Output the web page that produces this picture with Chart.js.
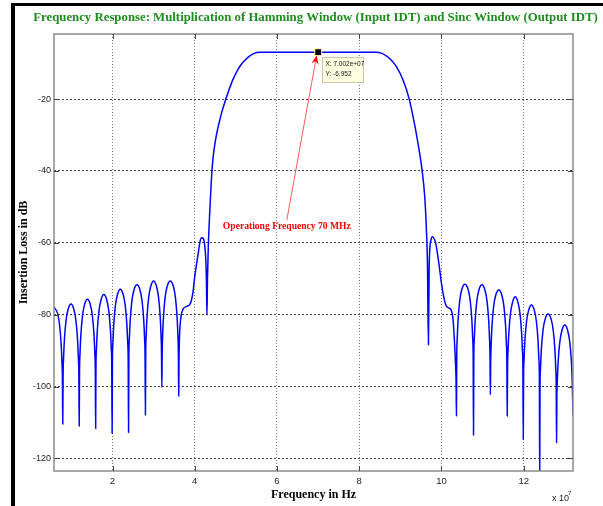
<!DOCTYPE html>
<html><head><meta charset="utf-8">
<script src="https://cdn.jsdelivr.net/npm/chart.js@4.4.0/dist/chart.umd.min.js"></script>
<style>
html,body{margin:0;padding:0;background:#fff;}
#wrap{position:relative;width:603px;height:506px;overflow:hidden;background:#fff;}
#frame{position:absolute;left:11px;top:3px;width:620px;height:520px;border-left:4px solid #000;border-top:3px solid #000;}
canvas{position:absolute;left:0;top:0;}
</style></head><body>
<div id="wrap"><div id="frame"></div><canvas id="c" width="603" height="506"></canvas></div>
<script>
const chartTitle = "Frequency Response: Multiplication of Hamming Window (Input IDT) and Sinc Window (Output IDT)";
const xAxisTitle = "Frequency in Hz";
const yAxisTitle = "Insertion Loss in dB";
const annotationText = "Operationg Frequency 70 MHz";
const xTicks = [2, 4, 6, 8, 10, 12];
const yTicks = [-20, -40, -60, -80, -100, -120];

// frequency in units of 1e7 Hz, loss in dB
const leftLobeFreq = [0.577,0.66,0.71,0.75,0.77,0.782,0.79,
 0.798,0.81,0.83,0.87,0.92,0.99,1.06,1.11,1.15,1.17,1.182,1.19,
 1.198,1.21,1.23,1.27,1.32,1.39,1.46,1.51,1.55,1.57,1.582,1.59,
 1.598,1.61,1.63,1.67,1.72,1.79,1.86,1.91,1.95,1.97,1.982,1.99,
 1.998,2.01,2.03,2.07,2.12,2.19,2.26,2.31,2.35,2.37,2.382,2.39,
 2.398,2.41,2.43,2.47,2.52,2.595,2.67,2.72,2.76,2.78,2.792,2.80,
 2.808,2.82,2.84,2.88,2.93,3.00,3.07,3.12,3.16,3.18,3.192,3.20,
 3.208,3.22,3.24,3.28,3.33,3.405,3.48,3.53,3.57,3.59,3.602,3.61];
const leftLobeLoss = [-78.0,-79.5,-82.6,-88,-93,-98,-110.4,
 -97,-92,-87,-81.6,-78.5,-77.0,-78.5,-81.6,-87,-92,-97,-111.0,
 -95.7,-90.7,-85.7,-80.3,-77.2,-75.7,-77.2,-80.3,-85.7,-90.7,-95.7,-111.7,
 -94.4,-89.4,-84.4,-79.0,-75.9,-74.4,-75.9,-79.0,-84.4,-89.4,-94.4,-113.0,
 -92.9,-87.9,-82.9,-77.5,-74.4,-72.9,-74.4,-77.5,-82.9,-87.9,-92.9,-112.8,
 -91.7,-86.7,-81.7,-76.3,-73.2,-71.7,-73.2,-76.3,-81.7,-86.7,-91.7,-107.9,
 -90.6,-85.6,-80.6,-75.2,-72.1,-70.6,-72.1,-75.2,-80.6,-85.6,-90.6,-100.2,
 -90.6,-85.6,-80.6,-75.2,-72.1,-70.6,-72.1,-75.2,-80.6,-85.6,-90.6,-102.6];

const passbandFreq = [3.618,3.63,3.66,3.71,3.80,3.88,3.92,3.96,4.00,4.05,4.09,4.13,4.17,4.21,4.245,4.27,4.285,4.297,
 4.31,4.33,4.36,4.40,4.44,4.49,4.545,4.65,4.757,4.92,5.03,5.13,5.24,5.34,5.45,5.58,5.8,6.2,6.6,7.002,
 7.4,7.8,8.2,8.42,8.55,8.65,8.74,8.82,8.905,9.066,9.212,9.31,9.43,9.528,9.594,9.635,9.66,9.684,
 9.70,9.716,9.75,9.781,9.82,9.861,9.91,9.959,10.00,10.04,10.08,10.12,10.19,10.24,10.28,10.31,10.34,10.357,10.365];
const passbandLoss = [-92,-86,-81,-78.6,-77.7,-77.2,-76,-73.5,-69.4,-65.5,-62.5,-59.6,-58.6,-58.8,-61,-65,-71,-80.1,
 -70,-61,-52.7,-43.5,-37,-32.5,-29,-24,-20,-14.8,-12.2,-10.4,-9.0,-8.0,-7.3,-7.0,-6.95,-6.95,-6.95,-6.952,
 -6.95,-6.95,-6.97,-7.0,-7.3,-7.9,-8.7,-9.7,-11.0,-14.7,-19.8,-24.9,-32.3,-39.7,-47.2,-56.4,-65.7,-88.4,
 -68,-62,-59,-58.3,-58.8,-60.1,-63.5,-67.6,-71.2,-74.1,-76.3,-77.6,-78.2,-78.8,-81,-86,-93,-99,-108.1];

const rightLobeFreq = [
 10.373,10.385,10.405,10.445,10.495,10.57,10.65,10.70,10.74,10.76,10.772,10.78,
 10.788,10.80,10.82,10.86,10.91,10.985,11.06,11.11,11.15,11.17,11.182,11.19,
 11.198,11.21,11.23,11.27,11.32,11.395,11.47,11.52,11.56,11.58,11.592,11.60,
 11.608,11.62,11.64,11.68,11.73,11.795,11.86,11.91,11.95,11.97,11.982,11.99,
 11.998,12.01,12.03,12.07,12.12,12.19,12.26,12.31,12.35,12.37,12.382,12.39,
 12.398,12.41,12.43,12.47,12.52,12.595,12.67,12.72,12.76,12.78,12.792,12.80,
 12.808,12.82,12.84,12.88,12.93,13.00,13.07,13.12,13.16,13.18,13.2];
const rightLobeLoss = [
 -91.5,-86.5,-81.5,-76.1,-73.0,-71.5,-73.0,-76.1,-81.5,-86.5,-91.5,-113.5,
 -91.7,-86.7,-81.7,-76.3,-73.2,-71.7,-73.2,-76.3,-81.7,-86.7,-91.7,-102.3,
 -93.1,-88.1,-83.1,-77.7,-74.6,-73.1,-74.6,-77.7,-83.1,-88.1,-93.1,-108.2,
 -95.0,-90.0,-85.0,-79.6,-76.5,-75.0,-76.5,-79.6,-85.0,-90.0,-95.0,-114.7,
 -97.3,-92.3,-87.3,-81.9,-78.8,-77.3,-78.8,-81.9,-87.3,-92.3,-97.3,-126,
 -99.8,-94.8,-89.8,-84.4,-81.3,-79.8,-81.3,-84.4,-89.8,-94.8,-99.8,-115.6,
 -102.9,-97.9,-92.9,-87.5,-84.4,-82.9,-84.4,-87.5,-92.9,-97.9,-108];

const dataTipX = 7.002;   // x 1e7 Hz
const dataTipY = -6.952;  // dB

const freqAll = leftLobeFreq.concat(passbandFreq, rightLobeFreq);
const lossAll = leftLobeLoss.concat(passbandLoss, rightLobeLoss);
const points = freqAll.map((f, i) => ({x: f, y: lossAll[i]}));

const decorPlugin = {
  id: 'decor',
  afterDatasetsDraw(chart) {
    const {ctx, chartArea: a, scales: {x, y}} = chart;
    ctx.save();
    // axes box
    ctx.strokeStyle = '#8c8c8c'; ctx.lineWidth = 1.5;
    ctx.strokeRect(a.left, a.top, a.right - a.left, a.bottom - a.top);
    // inward tick marks
    ctx.strokeStyle = '#444'; ctx.lineWidth = 1;
    ctx.beginPath();
    xTicks.forEach(v => {
      const px = Math.round(x.getPixelForValue(v)) + 0.5;
      ctx.moveTo(px, a.bottom); ctx.lineTo(px, a.bottom - 5);
      ctx.moveTo(px, a.top); ctx.lineTo(px, a.top + 5);
    });
    yTicks.forEach(v => {
      const py = Math.round(y.getPixelForValue(v)) + 0.5;
      ctx.moveTo(a.left, py); ctx.lineTo(a.left + 5, py);
      ctx.moveTo(a.right, py); ctx.lineTo(a.right - 5, py);
    });
    ctx.stroke();

    // annotation arrow
    const mx = x.getPixelForValue(dataTipX), my = y.getPixelForValue(dataTipY);
    const sx = x.getPixelForValue(6.24), sy = y.getPixelForValue(-53.6);
    const tx = mx - 1.5, ty = my + 3;
    const ang = Math.atan2(ty - sy, tx - sx);
    ctx.strokeStyle = '#ff5a5a'; ctx.lineWidth = 1;
    ctx.beginPath(); ctx.moveTo(sx, sy); ctx.lineTo(tx - 6 * Math.cos(ang), ty - 6 * Math.sin(ang)); ctx.stroke();
    ctx.fillStyle = '#ff0000';
    ctx.beginPath();
    ctx.moveTo(tx, ty);
    ctx.lineTo(tx - 9 * Math.cos(ang) + 3.5 * Math.sin(ang), ty - 9 * Math.sin(ang) - 3.5 * Math.cos(ang));
    ctx.lineTo(tx - 6 * Math.cos(ang), ty - 6 * Math.sin(ang));
    ctx.lineTo(tx - 9 * Math.cos(ang) - 3.5 * Math.sin(ang), ty - 9 * Math.sin(ang) + 3.5 * Math.cos(ang));
    ctx.closePath(); ctx.fill();

    // annotation text
    ctx.fillStyle = '#ff0000';
    ctx.font = 'bold 9.6px "Liberation Serif"';
    ctx.textAlign = 'center'; ctx.textBaseline = 'middle';
    ctx.fillText(annotationText, x.getPixelForValue(6.24), y.getPixelForValue(-55.5));

    // data tip marker
    ctx.fillStyle = '#000';
    ctx.fillRect(mx - 3, my - 3, 6, 6);
    ctx.strokeStyle = '#f0f0a0'; ctx.lineWidth = 1;
    ctx.strokeRect(mx - 3.5, my - 3.5, 7, 7);
    // data tip box
    const bx = Math.round(mx) + 4.5, by = Math.round(my) + 5.5;
    ctx.fillStyle = '#ffffe1';
    ctx.fillRect(bx, by, 41, 25);
    ctx.strokeStyle = '#c9c9a8';
    ctx.strokeRect(bx, by, 41, 25);
    ctx.fillStyle = '#111';
    ctx.font = '6.5px "Liberation Sans"';
    ctx.textAlign = 'left'; ctx.textBaseline = 'middle';
    ctx.fillText('X: ' + (dataTipX).toFixed(3) + 'e+07', bx + 3, by + 7);
    ctx.fillText('Y: ' + dataTipY.toFixed(3), bx + 3, by + 17);

    ctx.restore();
  },
  afterDraw(chart) {
    const {ctx, chartArea: a} = chart;
    ctx.save();
    ctx.fillStyle = '#1e8c1e';
    ctx.font = 'bold 12.8px "Liberation Serif"';
    ctx.textAlign = 'center'; ctx.textBaseline = 'middle';
    ctx.fillText(chartTitle, (a.left + a.right) / 2 + 2, 17.5);
    // x 10^7 exponent
    ctx.fillStyle = '#222';
    ctx.font = '9px "Liberation Sans"';
    ctx.textAlign = 'left'; ctx.textBaseline = 'alphabetic';
    ctx.fillText('x 10', a.right - 21, 501);
    ctx.font = '6px "Liberation Sans"';
    ctx.fillText('7', a.right - 5, 495);
    ctx.restore();
  }
};

new Chart(document.getElementById('c'), {
  type: 'line',
  data: { datasets: [{
    data: points,
    borderColor: '#0000ff',
    borderWidth: 1.5,
    pointRadius: 0,
    fill: false,
    cubicInterpolationMode: 'monotone'
  }]},
  options: {
    responsive: false,
    animation: false,
    devicePixelRatio: 1,
    layout: { padding: { left: 10, right: 30, top: 34, bottom: 0 } },
    plugins: { legend: { display: false }, tooltip: { enabled: false }, title: { display: false } },
    scales: {
      x: {
        type: 'linear', min: 0.577, max: 13.2,
        afterBuildTicks: s => { s.ticks = xTicks.map(v => ({ value: v })); },
        afterFit: s => { s.height = 35; },
        grid: { color: '#777', lineWidth: 1, drawTicks: false },
        border: { display: false, dash: [1, 2] },
        ticks: { font: { family: 'Liberation Sans', size: 9.5 }, color: '#222', padding: 5, maxRotation: 0, autoSkip: false },
        title: { display: true, text: xAxisTitle, color: '#000',
          font: { family: 'Liberation Serif', size: 12, weight: 'bold' }, padding: { top: 0, bottom: 4 } }
      },
      y: {
        type: 'linear', min: -123.5, max: -1.9,
        afterBuildTicks: s => { s.ticks = yTicks.map(v => ({ value: v })); },
        afterFit: s => { s.width = 44; },
        grid: { color: '#444', lineWidth: 1, drawTicks: false },
        border: { display: false, dash: [2, 2] },
        ticks: { font: { family: 'Liberation Sans', size: 9 }, color: '#222', padding: 3 },
        title: { display: true, text: yAxisTitle, color: '#000',
          font: { family: 'Liberation Serif', size: 12, weight: 'bold' }, padding: { top: 7, bottom: 0 } }
      }
    }
  },
  plugins: [decorPlugin]
});
</script>
</body></html>
